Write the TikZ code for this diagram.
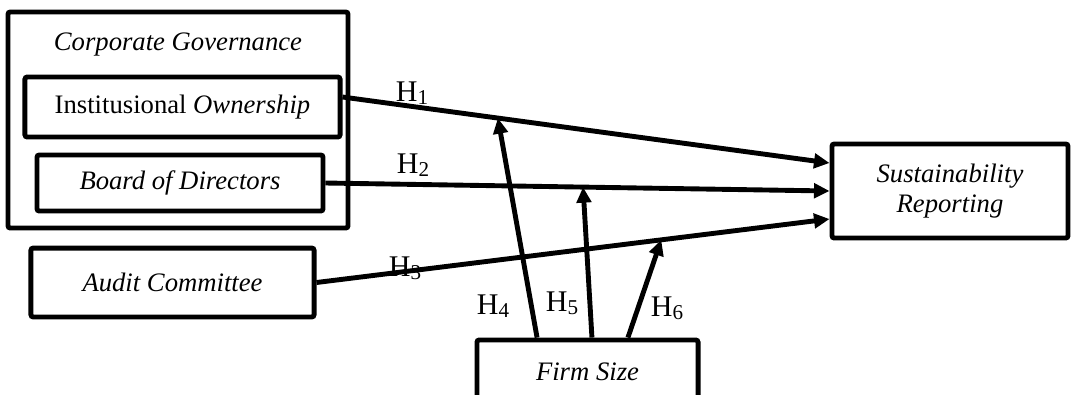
\documentclass[tikz,border=0pt]{standalone}
\usepackage{fontspec}
\setmainfont{Liberation Serif}
\usetikzlibrary{arrows.meta,positioning,calc}

\newcommand{\hyplabel}[1]{H\raisebox{-1.2pt}{\fontsize{9.5}{9.5}\selectfont #1}}

\begin{document}
\begin{tikzpicture}[x=0.45pt,y=-0.45pt,
  box/.style={draw=black, line width=2.2pt, rounded corners=1pt, align=center,
              inner sep=0pt, font=\fontsize{12}{13.5}\selectfont},
  hyp/.style={inner sep=0pt, font=\fontsize{13.5}{14}\selectfont},
  arr/.style={-{Triangle[length=7pt,width=6.5pt]}, line width=2.2pt}
]
\useasboundingbox (0,0) rectangle (1076,394);

% corporate governance group
\node[box, minimum width=153pt, minimum height=97.2pt] (cg) at (178,120) {};
\node[hyp, font=\fontsize{12}{13.5}\selectfont] (cgtitle) at (178,45) {\textit{Corporate Governance}};
\node[box, minimum width=141.8pt, minimum height=27pt] (inst)  at (182.5,107) {Institusional \textit{Ownership}};
\node[box, minimum width=128.7pt, minimum height=25.2pt] (board) at (180,183) {\textit{Board of Directors}};
\node[box, minimum width=127.4pt, minimum height=31pt] (audit) at (172.5,282.5) {\textit{Audit Committee}};

\node[box, minimum width=106.2pt, minimum height=42.3pt] (sust) at (950,191) {\textit{Sustainability}\\\textit{Reporting}};
\node[box, minimum width=99.5pt, minimum height=28.8pt] (firm) at (587.5,372) {\textit{Firm Size}};

% direct effects
\draw[arr] ([yshift=4.5pt]inst.east) -- coordinate[pos=0.319] (m1) ([yshift=12.6pt]sust.west);
\draw[arr] (board.east) -- coordinate[pos=0.511] (m2) (sust.west);
\draw[arr] (audit.east) -- coordinate[pos=0.672] (m3) ([yshift=-12.6pt]sust.west);

% moderation
\draw[arr] ([xshift=-22.7pt]firm.north) -- (m1);
\draw[arr] ([xshift=2pt]firm.north) -- (m2);
\draw[arr] ([xshift=18.2pt]firm.north) -- (m3);

\node[hyp] (h1) at (412,93)  {\hyplabel{1}};
\node[hyp] (h2) at (413,165) {\hyplabel{2}};
\node[hyp] (h3) at (405,268) {\hyplabel{3}};
\node[hyp] (h4) at (493,306) {\hyplabel{4}};
\node[hyp] (h5) at (562,303) {\hyplabel{5}};
\node[hyp] (h6) at (667,308) {\hyplabel{6}};
\end{tikzpicture}
\end{document}
